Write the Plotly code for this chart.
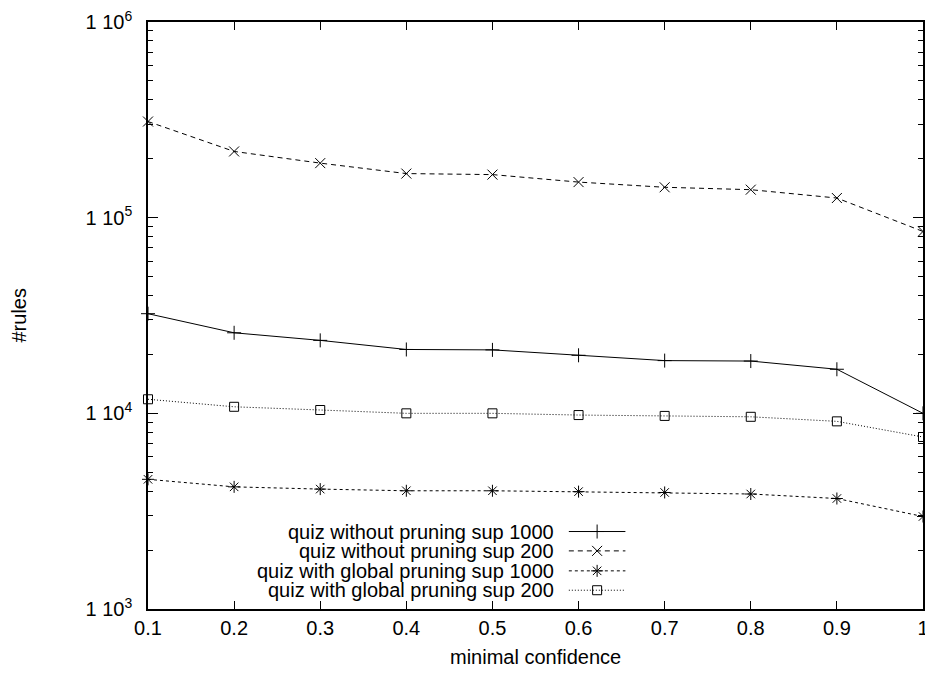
import plotly.graph_objects as go

confidence = [0.1, 0.2, 0.3, 0.4, 0.5, 0.6, 0.7, 0.8, 0.9, 1.0]
nopr_sup1000 = [32300, 25800, 23600, 21200, 21100, 19800, 18600, 18500, 16800, 10000]
nopr_sup200 = [310000, 218000, 190000, 168000, 166000, 152000, 143000, 139000, 126000, 85000]
glob_sup1000 = [4600, 4210, 4100, 4020, 4020, 3980, 3940, 3870, 3670, 2970]
glob_sup200 = [11800, 10800, 10400, 10000, 10000, 9800, 9700, 9600, 9100, 7570]

series_names = ["quiz without pruning sup 1000", "quiz without pruning sup 200",
                "quiz with global pruning sup 1000", "quiz with global pruning sup 200"]
series_values = [nopr_sup1000, nopr_sup200, glob_sup1000, glob_sup200]
series_dash = ["solid", "5px,4px", "3px,3px", "1px,2px"]
series_symbol = ["cross-thin-open", "x-thin-open", "asterisk-open", "square-open"]
series_size = [10, 10, 10, 9]

x_ticks = [0.1, 0.2, 0.3, 0.4, 0.5, 0.6, 0.7, 0.8, 0.9, 1.0]
x_ticktext = ["0.1", "0.2", "0.3", "0.4", "0.5", "0.6", "0.7", "0.8", "0.9", "1"]
y_ticks = [1e3, 1e4, 1e5, 1e6]
y_ticktext = ["1 10<sup>3</sup>", "1 10<sup>4</sup>", "1 10<sup>5</sup>", "1 10<sup>6</sup>"]
y_minor = [m * 10 ** e for e in (3, 4, 5) for m in range(2, 10)]

FONT = "Liberation Sans, Arial, Helvetica, sans-serif"
FS = 20

fig = go.Figure()

# legend subplot first (drawn beneath), transparent background
leg_x_text = 0.527
leg_x0, leg_x1 = 0.543, 0.616
leg_y = [0.132, 0.099, 0.065, 0.032]
for i, name in enumerate(series_names):
    fig.add_annotation(xref="x2 domain", yref="y2 domain", x=leg_x_text, y=leg_y[i],
                       text=name, showarrow=False, xanchor="right", yanchor="middle",
                       font=dict(family=FONT, size=FS, color="black"))
    fig.add_trace(go.Scatter(
        x=[leg_x0, leg_x1], y=[leg_y[i]] * 2,
        xaxis="x2", yaxis="y2", mode="lines", showlegend=False, hoverinfo="skip",
        line=dict(color="black", width=1, dash=series_dash[i])))
    fig.add_trace(go.Scatter(
        x=[(leg_x0 + leg_x1) / 2], y=[leg_y[i]],
        xaxis="x2", yaxis="y2", mode="markers", showlegend=False, hoverinfo="skip",
        marker=dict(symbol=series_symbol[i], size=series_size[i], color="black",
                    line=dict(color="black", width=1))))

for name, vals, dash, sym, sz in zip(series_names, series_values, series_dash, series_symbol, series_size):
    fig.add_trace(go.Scatter(
        x=confidence, y=vals, mode="lines+markers", name=name, showlegend=False,
        line=dict(color="black", width=1, dash=dash),
        marker=dict(symbol=sym, size=sz, color="black", line=dict(color="black", width=1)),
        cliponaxis=False,
    ))

fig.add_annotation(xref="paper", yref="paper", x=0, y=0.5, xshift=-130, textangle=-90,
                   text="#rules", showarrow=False, xanchor="center", yanchor="middle",
                   font=dict(family=FONT, size=FS, color="black"))
fig.add_annotation(xref="paper", yref="paper", x=0.5, y=0, yshift=-48,
                   text="minimal confidence", showarrow=False, xanchor="center", yanchor="middle",
                   font=dict(family=FONT, size=FS, color="black"))

# the page body adds an 8px offset, so the figure is 8px smaller and margins shifted
fig.update_layout(
    width=925, height=667,
    margin=dict(l=140, r=10, t=14, b=66),
    plot_bgcolor="rgba(0,0,0,0)", paper_bgcolor="white",
    font=dict(family=FONT, size=FS, color="black"),
    xaxis=dict(range=[0.1, 1.0], tickvals=x_ticks, ticktext=x_ticktext,
               showline=True, linecolor="black", linewidth=1.5, mirror="ticks",
               ticks="inside", ticklen=8, tickcolor="black", showgrid=False, zeroline=False,
               ticklabelstandoff=0, automargin=False, ticklabeloverflow="allow"),
    yaxis=dict(type="log", range=[3, 6], tickvals=y_ticks, ticktext=y_ticktext,
               showline=True, linecolor="black", linewidth=1.5, mirror="ticks",
               ticks="inside", ticklen=10, tickcolor="black", showgrid=False, zeroline=False,
               minor=dict(tickvals=y_minor, ticks="inside", ticklen=5, tickcolor="black"),
               ticklabelstandoff=10, automargin=False, ticklabeloverflow="allow"),
    xaxis2=dict(domain=[0, 1], anchor="y2", range=[0, 1], visible=False),
    yaxis2=dict(domain=[0, 1], anchor="x2", range=[0, 1], visible=False),
)

fig.write_html("out.html")
